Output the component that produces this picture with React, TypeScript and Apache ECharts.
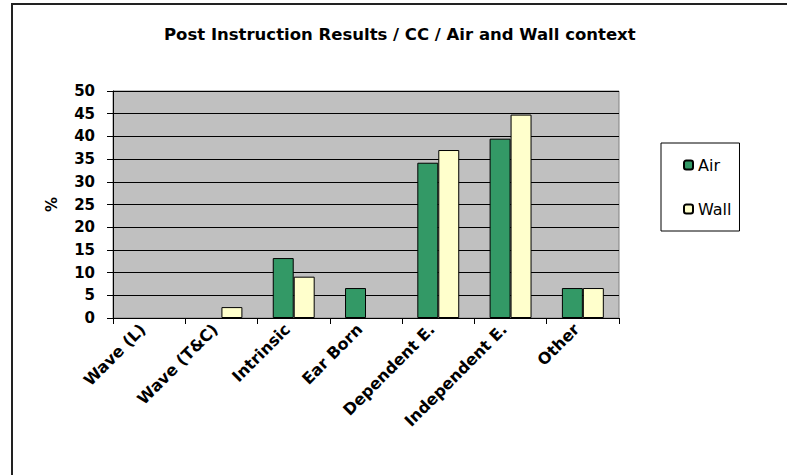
import React, { useEffect, useRef } from "react";
import * as echarts from "echarts";

const categories = ["Wave (L)", "Wave (T&C)", "Intrinsic", "Ear Born", "Dependent E.", "Independent E.", "Other"];
const airValues = [0, 0, 13.2, 6.6, 34.2, 39.5, 6.6];
const wallValues = [0, 2.4, 9.1, 0, 37.0, 44.8, 6.6];
const seriesNames = ["Air", "Wall"];
const titleText = "Post Instruction Results / CC / Air and Wall context";

const FONT = "'DejaVu Sans', 'Liberation Sans', Arial, sans-serif";

const toData = (vals: number[]) =>
  vals.map((v) => (v === 0 ? { value: v, itemStyle: { borderWidth: 0 } } : v));

export default function App() {
  const ref = useRef<HTMLDivElement>(null);
  useEffect(() => {
    if (!ref.current) return;
    const chart = echarts.init(ref.current, null, { renderer: "svg" });
    chart.setOption({
      animation: false,
      backgroundColor: "#ffffff",
      textStyle: { fontFamily: FONT },
      title: {
        text: titleText,
        left: 159,
        top: 21,
        textStyle: { fontFamily: FONT, fontSize: 16.5, fontWeight: "bold", color: "#000" },
      },
      graphic: [
        {
          type: "rect",
          shape: { x: 12, y: 4, width: 800, height: 500 },
          style: { fill: "none", stroke: "#222", lineWidth: 2 },
          silent: true,
        },
      ],
      legend: {
        orient: "vertical",
        left: 661,
        top: 143,
        padding: [14, 8, 14, 22],
        itemGap: 28,
        itemWidth: 9,
        itemHeight: 9,
        borderColor: "#000",
        borderWidth: 1,
        data: seriesNames,
        textStyle: { fontFamily: FONT, fontSize: 16, color: "#000" },
      },
      grid: {
        left: 113,
        right: 168,
        top: 91,
        bottom: 157,
        show: true,
        backgroundColor: "#C0C0C0",
        borderColor: "#808080",
        borderWidth: 1,
      },
      xAxis: {
        type: "category",
        data: categories,
        axisLine: { lineStyle: { color: "#000", width: 1 } },
        axisTick: { show: true, length: 6, lineStyle: { color: "#000" } },
        axisLabel: {
          rotate: 45,
          margin: 15,
          interval: 0,
          verticalAlign: "bottom",
          padding: [0, 0, 1, 0],
          fontFamily: FONT,
          fontSize: 16,
          fontWeight: "bold",
          color: "#000",
        },
      },
      yAxis: {
        type: "value",
        min: 0,
        max: 50,
        interval: 5,
        name: "%",
        nameLocation: "middle",
        nameGap: 54,
        nameRotate: 90,
        nameTextStyle: { fontFamily: FONT, fontSize: 15, fontWeight: "bold", color: "#000" },
        axisLine: { show: true, lineStyle: { color: "#000", width: 1 } },
        axisTick: { show: true, length: 6, lineStyle: { color: "#000" } },
        axisLabel: {
          margin: 18,
          fontFamily: FONT,
          fontSize: 15,
          fontWeight: "bold",
          color: "#000",
        },
        splitLine: { show: true, lineStyle: { color: "#000", width: 1 } },
      },
      series: [
        {
          name: seriesNames[0],
          type: "bar",
          data: toData(airValues),
          barGap: "0%",
          barCategoryGap: "42%",
          itemStyle: { color: "#339966", borderColor: "#000", borderWidth: 1 },
        },
        {
          name: seriesNames[1],
          type: "bar",
          data: toData(wallValues),
          barGap: "0%",
          barCategoryGap: "42%",
          itemStyle: { color: "#FFFFCC", borderColor: "#000", borderWidth: 1 },
        },
      ],
    });
    return () => chart.dispose();
  }, []);
  return (
    <div
      ref={ref}
      style={{ position: "fixed", left: 0, top: 0, width: 787, height: 475 }}
    />
  );
}
